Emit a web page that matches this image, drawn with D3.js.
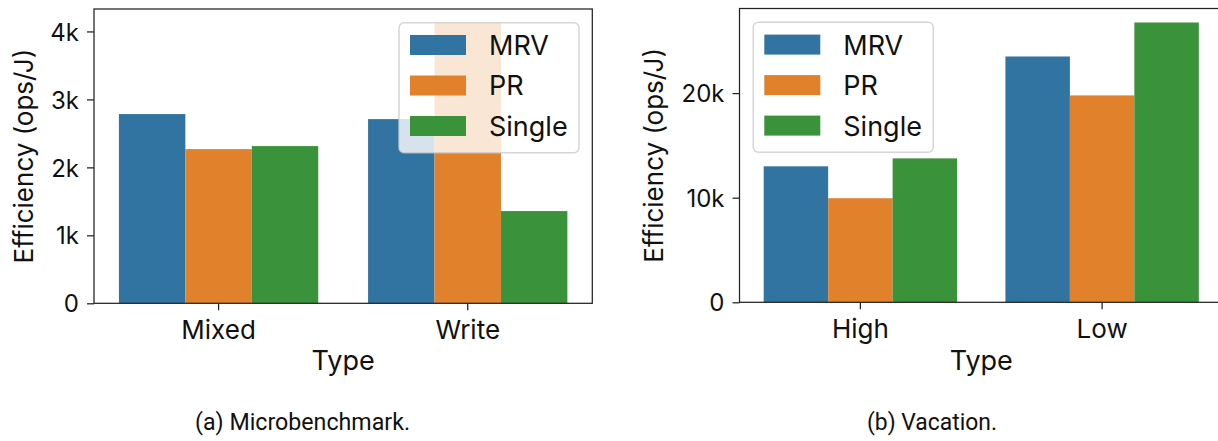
<!DOCTYPE html>
<html><head><meta charset="utf-8">
<script src="https://cdn.jsdelivr.net/npm/d3@7"></script>
<style>body{margin:0;background:#fff} svg{display:block}</style>
</head><body>
<svg id="c" width="1218" height="441"></svg>
<script>
// ---------- data ----------
const series = ["MRV", "PR", "Single"];
const seriesColors = ["#3274a1", "#e1812c", "#3a923a"];

const catsA = ["Mixed", "Write"];
const mrvA = [2784, 2710];
const prA = [2269, 4124];
const singleA = [2313, 1357];
const ticksA = [0, 1000, 2000, 3000, 4000];
const tickLabelsA = ["0", "1k", "2k", "3k", "4k"];

const catsB = ["High", "Low"];
const mrvB = [13000, 23500];
const prB = [9950, 19780];
const singleB = [13760, 26750];
const ticksB = [0, 10000, 20000];
const tickLabelsB = ["0", "10k", "20k"];

const yTitle = "Efficiency (ops/J)";
const xTitle = "Type";
const captionA = "(a) Microbenchmark.";
const captionB = "(b) Vacation.";

// ---------- drawing ----------
const FONT = "Inter, 'Open Sans', sans-serif";
const svg = d3.select("#c");

function panel(o) {
  const g = svg.append("g");
  const vals = [o.mrv, o.pr, o.single];
  const maxV = d3.max(vals.flat());
  const y = d3.scaleLinear().domain([0, maxV * 1.05]).range([o.yBot, o.yTop]);
  const x = d3.scaleBand().domain(o.cats).range([o.x0, o.x1]).padding(0);
  const inner = d3.scaleBand().domain(series)
    .range([x.bandwidth() * 0.1, x.bandwidth() * 0.9]).padding(0);

  // bars
  series.forEach((s, si) => {
    g.append("g").selectAll("rect").data(o.cats.map((c, i) => ({c, v: vals[si][i]})))
      .join("rect")
      .attr("x", d => x(d.c) + inner(s))
      .attr("width", inner.bandwidth())
      .attr("y", d => y(d.v))
      .attr("height", d => y(0) - y(d.v))
      .attr("fill", seriesColors[si]);
  });

  // y axis
  const ya = g.append("g").attr("transform", `translate(${o.x0},0)`)
    .call(d3.axisLeft(y).tickValues(o.ticks).tickFormat((d, i) => o.tickLabels[i])
      .tickSize(7).tickPadding(8));
  ya.select(".domain").remove();
  ya.selectAll(".tick line").attr("stroke", "#222").attr("stroke-width", 1.25);
  ya.selectAll(".tick text").attr("font-family", FONT).attr("font-size", 24)
    .attr("fill", "#111").attr("dy", "0.36em");

  // x axis
  const xa = g.append("g").attr("transform", `translate(0,${o.yBot})`)
    .call(d3.axisBottom(x).tickSize(7).tickPadding(10));
  xa.select(".domain").remove();
  xa.selectAll(".tick line").attr("stroke", "#222").attr("stroke-width", 1.25);
  xa.selectAll(".tick text").attr("font-family", FONT).attr("font-size", 26)
    .attr("fill", "#111");

  // spines
  g.append("rect").attr("x", o.x0).attr("y", o.yTop)
    .attr("width", o.x1 - o.x0).attr("height", o.yBot - o.yTop)
    .attr("fill", "none").attr("stroke", "#222").attr("stroke-width", 1.25);

  // axis titles
  g.append("text").attr("x", (o.x0 + o.x1) / 2).attr("y", 370)
    .attr("text-anchor", "middle").attr("font-family", FONT).attr("font-size", 27)
    .attr("fill", "#111").text(xTitle);
  g.append("text")
    .attr("transform", `translate(${o.yLabelX},${(o.yTop + o.yBot) / 2}) rotate(-90)`)
    .attr("text-anchor", "middle").attr("font-family", FONT).attr("font-size", 26)
    .attr("fill", "#111").text(yTitle);

  // legend
  const lg = g.append("g").attr("transform", `translate(${o.legX},${o.legY})`);
  lg.append("rect").attr("width", 180).attr("height", 130).attr("rx", 5)
    .attr("fill", "#fff").attr("fill-opacity", 0.8)
    .attr("stroke", "#cccccc").attr("stroke-opacity", 0.8).attr("stroke-width", 1.5);
  series.forEach((s, i) => {
    lg.append("rect").attr("x", 11).attr("y", 12.3 + i * 40.5)
      .attr("width", 56).attr("height", 20).attr("fill", seriesColors[i]);
    lg.append("text").attr("x", 90).attr("y", 32.3 + i * 40.5)
      .attr("font-family", FONT).attr("font-size", 27).attr("fill", "#111").text(s);
  });

  // caption
  svg.append("text").attr("x", o.capX).attr("y", 430).attr("font-family", "'Liberation Sans Narrow', 'Roboto', sans-serif")
    .attr("font-size", 24).attr("fill", "#111")
    .attr("textLength", o.capW).attr("lengthAdjust", "spacingAndGlyphs")
    .text(o.caption);
}

panel({cats: catsA, mrv: mrvA, pr: prA, single: singleA, ticks: ticksA, tickLabels: tickLabelsA,
  x0: 94, x1: 592.3, yTop: 9, yBot: 303.3, yLabelX: 33.3, legX: 399, legY: 22.7,
  caption: captionA, capX: 195, capW: 215});
panel({cats: catsB, mrv: mrvB, pr: prB, single: singleB, ticks: ticksB, tickLabels: tickLabelsB,
  x0: 739.5, x1: 1223, yTop: 8.5, yBot: 302.3, yLabelX: 663.3, legX: 753.3, legY: 22.3,
  caption: captionB, capX: 867, capW: 130});
</script>
</body></html>
